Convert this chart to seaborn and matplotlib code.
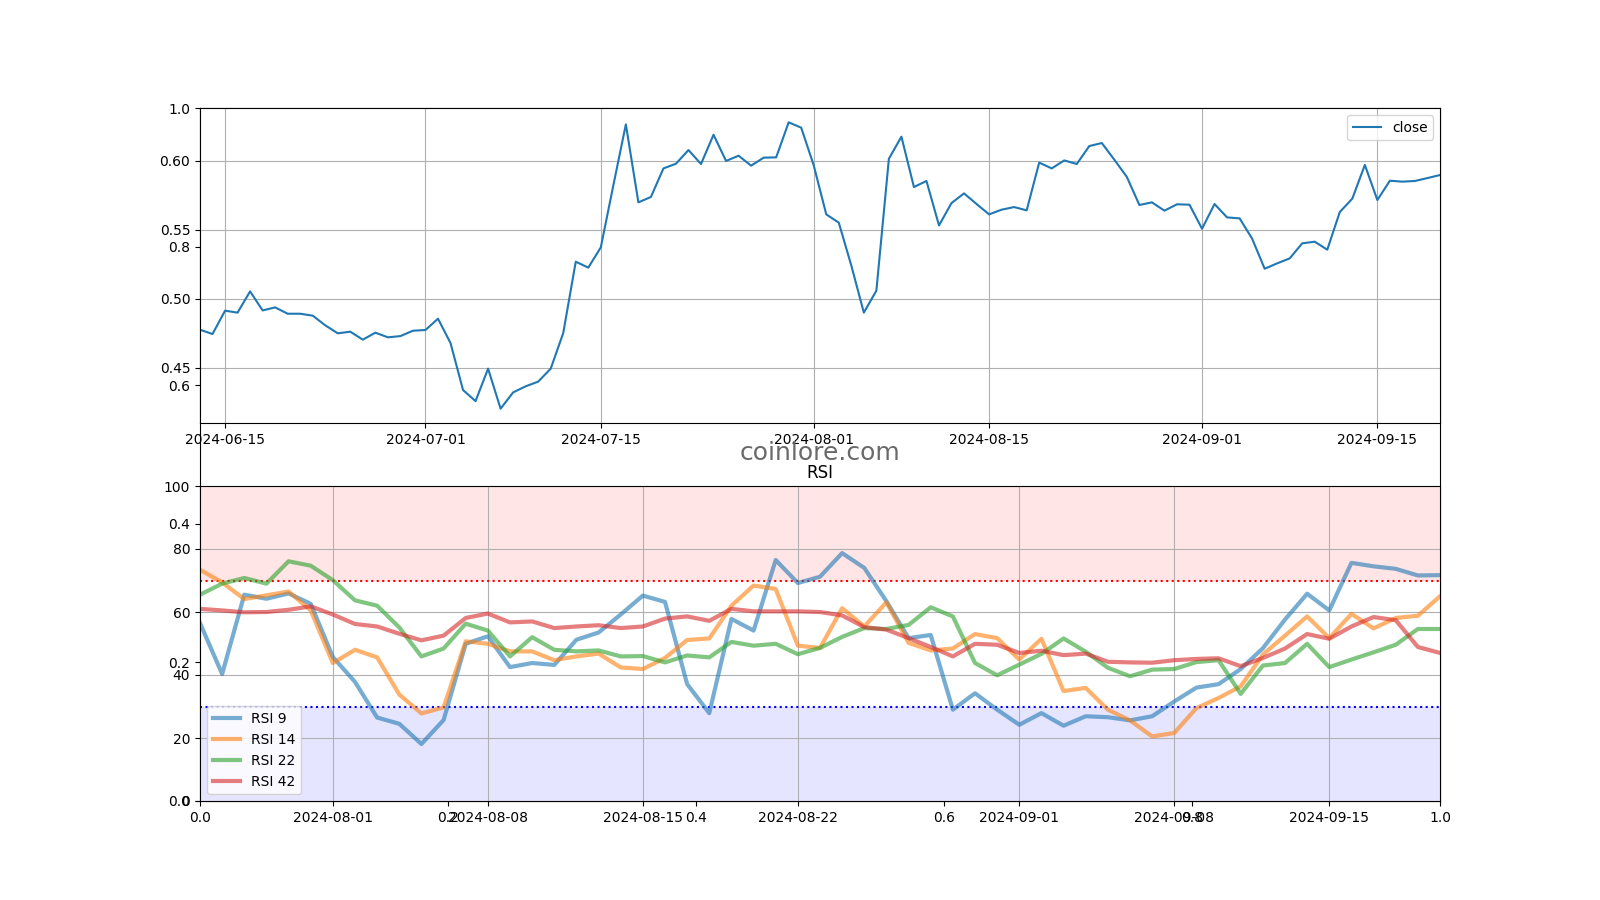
import pandas as pd
import numpy as np
import matplotlib
matplotlib.use("Agg")
import matplotlib.pyplot as plt
import seaborn as sns

# price data (daily close, 2024-06-13 .. 2024-09-20)
price_dates = pd.date_range("2024-06-13", "2024-09-20", freq="D")
close = [
    0.4775, 0.4744, 0.4913, 0.4899, 0.5053, 0.4915, 0.4937, 0.4891, 0.4891, 0.4877,
    0.4807, 0.4749, 0.4761, 0.4703, 0.4754, 0.4720, 0.4729, 0.4768, 0.4773, 0.4855,
    0.4679, 0.4338, 0.4258, 0.4493, 0.4203, 0.4321, 0.4365, 0.4399, 0.4493, 0.4751,
    0.5268, 0.5225, 0.5372, 0.5821, 0.6263, 0.5698, 0.5737, 0.5944, 0.5978, 0.6077,
    0.5976, 0.6188, 0.5998, 0.6036, 0.5964, 0.6022, 0.6024, 0.6278, 0.6239, 0.5966,
    0.5611, 0.5551, 0.5240, 0.4899, 0.5058, 0.6014, 0.6174, 0.5809, 0.5853, 0.5531,
    0.5693, 0.5763, 0.5686, 0.5611, 0.5645, 0.5664, 0.5640, 0.5986, 0.5944, 0.6002,
    0.5976, 0.6106, 0.6128, 0.6007, 0.5882, 0.5679, 0.5698, 0.5638, 0.5684, 0.5681,
    0.5507, 0.5686, 0.5589, 0.5582, 0.5435, 0.5217, 0.5256, 0.5292, 0.5401, 0.5413,
    0.5355, 0.5628, 0.5725, 0.5969, 0.5715, 0.5855, 0.5848, 0.5853, 0.5874, 0.5896,
]

# rsi data (2024-07-26 .. 2024-09-20)
rsi_dates = pd.date_range("2024-07-26", "2024-09-20", freq="D")
rsi_9 = [
    56.5, 40.3, 65.5, 64.2, 65.9, 62.6, 45.7, 37.8, 26.5, 24.5,
    18.1, 25.7, 49.9, 52.3, 42.5, 43.8, 43.2, 51.2, 53.5, 59.2,
    65.2, 63.2, 37.1, 27.9, 57.8, 54.1, 76.5, 69.2, 71.2, 78.7,
    74.0, 63.4, 51.7, 52.7, 29.0, 34.2, 29.0, 24.2, 27.9, 23.9,
    26.9, 26.6, 25.6, 26.9, 31.6, 36.0, 37.1, 41.9, 48.5, 57.6,
    65.8, 60.5, 75.6, 74.5, 73.7, 71.6, 71.7,
]
rsi_14 = [
    73.4, 69.4, 64.1, 65.3, 66.5, 60.5, 43.8, 48.0, 45.6, 33.8,
    27.8, 29.7, 50.7, 49.9, 47.5, 47.5, 44.7, 45.9, 46.8, 42.4,
    41.9, 45.4, 51.1, 51.6, 62.0, 68.4, 67.3, 49.3, 48.6, 61.2,
    55.4, 63.1, 50.2, 47.8, 48.4, 53.0, 51.7, 44.9, 51.5, 34.9,
    35.9, 29.0, 25.6, 20.5, 21.6, 29.5, 32.7, 36.4, 46.5, 52.5,
    58.6, 51.7, 59.4, 54.8, 58.1, 58.8, 65.0,
]
rsi_22 = [
    65.5, 69.0, 70.8, 69.0, 76.1, 74.7, 70.1, 63.7, 62.0, 55.1,
    45.9, 48.4, 56.3, 54.1, 45.9, 52.0, 48.0, 47.5, 47.8, 45.9,
    46.0, 44.0, 46.2, 45.6, 50.5, 49.3, 49.9, 46.6, 48.6, 52.1,
    54.9, 54.6, 55.9, 61.5, 58.6, 43.8, 39.9, 43.3, 46.7, 51.6,
    47.4, 42.3, 39.6, 41.7, 41.9, 44.1, 44.7, 34.0, 43.0, 43.8,
    49.9, 42.5, 44.9, 47.2, 49.6, 54.6, 54.6,
]
rsi_42 = [
    61.0, 60.5, 59.9, 60.0, 60.7, 61.8, 59.2, 56.2, 55.4, 53.1,
    51.0, 52.5, 58.1, 59.5, 56.7, 57.0, 54.9, 55.4, 55.8, 54.9,
    55.4, 57.9, 58.6, 57.2, 61.0, 60.2, 60.2, 60.2, 60.0, 58.9,
    55.2, 54.4, 51.7, 48.9, 45.9, 49.9, 49.6, 47.0, 47.7, 46.3,
    46.8, 44.2, 44.0, 43.9, 44.7, 45.1, 45.3, 42.8, 45.4, 48.4,
    53.0, 51.5, 55.4, 58.4, 57.4, 48.9, 47.0,
]
rsi_series = {"RSI 9": rsi_9, "RSI 14": rsi_14, "RSI 22": rsi_22, "RSI 42": rsi_42}

fig = plt.figure(figsize=(16, 9), dpi=100)
bg = fig.add_subplot(111)
ax1 = fig.add_subplot(211)
ax2 = fig.add_subplot(212)

# top - close price
sns.lineplot(x=price_dates, y=close, ax=ax1, label="close", color="tab:blue", linewidth=1.5)
ax1.set_xlim(price_dates[0], price_dates[-1])
ax1.set_yticks([0.45, 0.50, 0.55, 0.60])
ax1.set_yticklabels(["0.45", "0.50", "0.55", "0.60"])
ax1.set_xlabel("")
ax1.set_ylabel("")
ax1.grid(True)
ax1.legend(loc="upper right")

# bottom - rsi
ax2.axhspan(70, 100, color="red", alpha=0.1, lw=0)
ax2.axhspan(0, 30, color="blue", alpha=0.1, lw=0)
ax2.axhline(70, color="red", linestyle=":", linewidth=1.5)
ax2.axhline(30, color="blue", linestyle=":", linewidth=1.5)
colors = ["tab:blue", "tab:orange", "tab:green", "tab:red"]
for (name, vals), c in zip(rsi_series.items(), colors):
    sns.lineplot(x=rsi_dates, y=vals, ax=ax2, label=name, color=c, alpha=0.6, linewidth=3)
ax2.set_xlim(rsi_dates[0], rsi_dates[-1])
ax2.set_ylim(0, 100)
ax2.set_title("RSI")
ax2.set_xlabel("")
ax2.set_ylabel("")
ax2.grid(True)
ax2.legend(loc="lower left")

fig.text(0.5125, 0.497, "coinlore.com", fontsize=18, color="dimgray", ha="center", va="center")

plt.savefig("out.png")
